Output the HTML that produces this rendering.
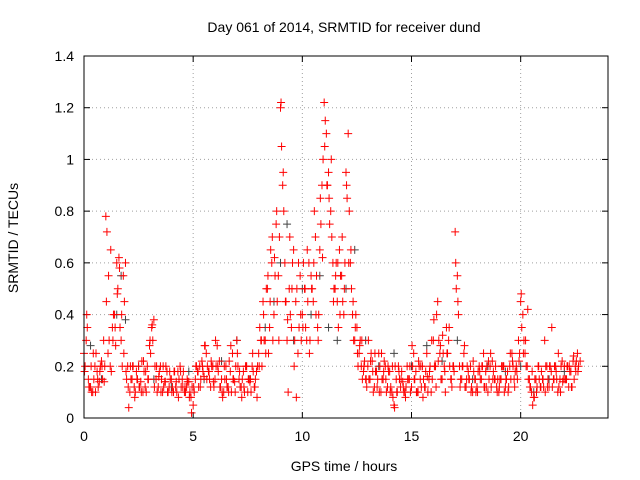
<!DOCTYPE html>
<html><head><meta charset="utf-8"><style>
body{margin:0;background:#fff;}
svg{display:block;font-family:"Liberation Sans",sans-serif;}
</style></head><body>
<svg id="chart" width="640" height="480" xmlns="http://www.w3.org/2000/svg">
<text x="344" y="32" font-size="14" text-anchor="middle">Day 061 of 2014, SRMTID for receiver dund</text>
<text transform="translate(18,238) rotate(-90)" font-size="14" text-anchor="middle">SRMTID / TECUs</text>
<text x="344" y="471" font-size="14" text-anchor="middle">GPS time / hours</text>
<g id="grid"></g><g id="ticks"></g><g id="marks"></g>
<rect x="84" y="56" width="524" height="362" fill="none" stroke="#000" stroke-width="1"/>
</svg>
<script>
const yTicks=[0,0.2,0.4,0.6,0.8,1,1.2,1.4];
const yTickLabels=["0","0.2","0.4","0.6","0.8","1","1.2","1.4"];
const xTicks=[0,5,10,15,20];
const xTickLabels=["0","5","10","15","20"];
const redStartA=0, redStartB=0.05, redStep=0.1;
const redStartC=0.025, redStartD=0.125, redStep2=0.2;
const redA=[0.25,0.3,0.15,0.12,0.1,0.2,0.18,0.14,0.22,0.3,
0.78,0.25,0.2,0.35,0.4,0.6,0.62,0.3,0.55,0.6,
0.2,0.1,0.15,0.12,0.18,0.2,0.14,0.1,0.12,0.2,
0.28,0.35,0.38,0.15,0.12,0.2,0.1,0.14,0.18,0.12,
0.15,0.1,0.12,0.18,0.2,0.15,0.1,0.12,0.14,0.08,
0.05,0.15,0.18,0.2,0.22,0.16,0.25,0.18,0.12,0.2,
0.15,0.28,0.22,0.15,0.1,0.2,0.12,0.18,0.25,0.14,
0.3,0.15,0.12,0.18,0.2,0.1,0.14,0.2,0.12,0.18,
0.25,0.3,0.45,0.3,0.5,0.35,0.6,0.4,0.75,0.55,
1.2,0.9,0.6,0.3,0.5,0.35,0.65,0.45,0.25,0.55,
0.4,0.5,0.3,0.6,0.55,0.45,0.7,0.35,0.65,0.9,
1.22,1.1,0.95,0.8,0.6,0.5,0.45,0.65,0.55,0.4,
0.95,1.1,0.6,0.4,0.3,0.35,0.25,0.2,0.18,0.15,
0.2,0.15,0.22,0.12,0.18,0.25,0.1,0.15,0.2,0.12,
0.18,0.1,0.05,0.15,0.2,0.12,0.14,0.1,0.2,0.15,
0.12,0.25,0.18,0.1,0.15,0.2,0.12,0.25,0.15,0.1,
0.3,0.2,0.45,0.25,0.15,0.2,0.35,0.3,0.15,0.2,
0.72,0.55,0.2,0.15,0.25,0.12,0.18,0.2,0.1,0.15,
0.12,0.2,0.15,0.25,0.18,0.1,0.2,0.22,0.15,0.12,
0.1,0.15,0.2,0.12,0.18,0.2,0.25,0.15,0.2,0.3,
0.45,0.4,0.25,0.2,0.15,0.1,0.08,0.15,0.2,0.12,
0.15,0.3,0.2,0.12,0.18,0.15,0.2,0.1,0.15,0.22,
0.2,0.15,0.12,0.18,0.22,0.2,0.25];
const redB=[0.2,0.35,0.12,0.1,0.15,0.25,0.12,0.2,0.15,0.2,
0.72,0.3,0.18,0.4,0.28,0.5,0.35,0.2,0.45,0.15,
0.04,0.15,0.2,0.1,0.15,0.12,0.22,0.18,0.1,0.15,
0.25,0.3,0.2,0.1,0.18,0.15,0.12,0.2,0.1,0.15,
0.12,0.18,0.1,0.15,0.12,0.18,0.1,0.14,0.1,0.12,
0.1,0.2,0.12,0.15,0.18,0.28,0.2,0.15,0.2,0.12,
0.2,0.18,0.12,0.08,0.15,0.12,0.22,0.1,0.15,0.2,
0.2,0.12,0.15,0.1,0.2,0.15,0.1,0.18,0.15,0.2,
0.35,0.2,0.3,0.5,0.25,0.65,0.3,0.55,0.45,0.7,
1.05,0.8,0.45,0.1,0.4,0.6,0.3,0.5,0.35,0.3,
0.6,0.35,0.45,0.3,0.5,0.8,0.55,0.4,0.75,1.0,
1.15,0.9,0.75,0.7,0.5,0.6,0.35,0.55,0.45,0.6,
0.85,0.8,0.5,0.3,0.4,0.2,0.3,0.15,0.22,0.12,
0.15,0.25,0.1,0.18,0.15,0.2,0.15,0.22,0.1,0.18,
0.12,0.08,0.2,0.1,0.15,0.18,0.1,0.12,0.15,0.1,
0.2,0.15,0.1,0.2,0.12,0.15,0.18,0.1,0.2,0.15,
0.2,0.4,0.3,0.15,0.25,0.1,0.25,0.2,0.12,0.18,
0.5,0.4,0.15,0.2,0.12,0.2,0.15,0.12,0.18,0.1,
0.18,0.15,0.2,0.12,0.2,0.15,0.12,0.18,0.2,0.15,
0.15,0.2,0.1,0.15,0.12,0.15,0.2,0.18,0.15,0.25,
0.35,0.3,0.2,0.15,0.12,0.05,0.15,0.12,0.15,0.18,
0.12,0.2,0.15,0.2,0.12,0.2,0.15,0.12,0.2,0.15,
0.15,0.2,0.18,0.12,0.15,0.22,0.2];
const redC=[0.18,0.12,0.25,0.15,0.2,0.45,0.65,0.35,0.58,0.25,
0.12,0.2,0.15,0.1,0.18,0.3,0.12,0.16,0.2,0.1,
0.1,0.14,0.18,0.12,0.08,0.12,0.18,0.2,0.15,0.22,
0.3,0.12,0.2,0.1,0.15,0.25,0.08,0.2,0.15,0.12,
0.2,0.4,0.55,0.7,0.8,1.22,0.45,0.7,0.2,0.6,
0.35,0.65,0.5,0.4,0.85,1.05,0.85,0.45,0.6,0.7,
0.9,0.65,0.35,0.28,0.2,0.3,0.18,0.12,0.25,0.15,
0.1,0.04,0.18,0.12,0.15,0.28,0.1,0.2,0.12,0.18,
0.38,0.22,0.32,0.25,0.15,0.6,0.12,0.28,0.15,0.22,
0.1,0.2,0.12,0.25,0.15,0.12,0.2,0.1,0.22,0.18,
0.48,0.3,0.12,0.08,0.2,0.15,0.12,0.35,0.18,0.1,
0.15,0.2,0.24,0.18];
const redD=[0.4,0.2,0.1,0.18,0.14,0.55,0.3,0.48,0.4,0.18,
0.2,0.08,0.12,0.22,0.15,0.36,0.2,0.1,0.14,0.18,
0.18,0.08,0.12,0.15,0.02,0.2,0.12,0.28,0.18,0.14,
0.2,0.1,0.15,0.28,0.1,0.18,0.12,0.15,0.25,0.08,
0.3,0.25,0.45,0.62,0.3,0.95,0.38,0.5,0.08,0.4,
0.5,0.25,0.6,0.3,0.62,0.9,1.0,0.55,0.4,0.5,
0.6,0.45,0.25,0.3,0.15,0.22,0.25,0.1,0.18,0.2,
0.2,0.1,0.15,0.08,0.2,0.15,0.22,0.08,0.16,0.3,
0.12,0.28,0.18,0.35,0.2,0.45,0.2,0.15,0.1,0.15,
0.18,0.12,0.22,0.15,0.1,0.2,0.15,0.25,0.12,0.22,
0.25,0.42,0.18,0.1,0.12,0.1,0.2,0.15,0.25,0.14,
0.2,0.12,0.18,0.22];
const blackTimes=[0.3,0.8,1.5,1.7,1.9,2.5,3.2,4.0,4.8,5.5,6.3,7.0,7.6,8.3,8.7,9.0,9.3,9.6,10.0,10.4,10.8,11.2,11.6,12.0,12.4,12.9,13.5,14.2,15.0,15.7,16.4,17.1,17.8,18.5,19.3,20.0,20.6,21.3,22.0];
const blackValues=[0.28,0.15,0.4,0.55,0.38,0.2,0.15,0.12,0.18,0.15,0.22,0.3,0.15,0.35,0.45,0.6,0.75,0.3,0.5,0.4,0.55,0.35,0.3,0.5,0.65,0.3,0.2,0.25,0.2,0.28,0.22,0.3,0.15,0.2,0.18,0.2,0.1,0.15,0.18];

const X0=84,X1=608,Y0=418,Y1=56,XMAX=24,YMAX=1.4;
const xs=v=>X0+v/XMAX*(X1-X0);
const ys=v=>Y0-v/YMAX*(Y0-Y1);
const NS="http://www.w3.org/2000/svg";
const mk=(t,a,p)=>{const e=document.createElementNS(NS,t);for(const k in a)e.setAttribute(k,a[k]);p.appendChild(e);return e;};
const grid=document.getElementById('grid'),ticks=document.getElementById('ticks'),marks=document.getElementById('marks');
yTicks.forEach((v,i)=>{const y=ys(v);
 if(i>0&&i<yTicks.length-1){const g=mk('line',{x1:X0,x2:X1,y1:y,y2:y,stroke:'#a0a0a0','stroke-dasharray':'1,3'},grid);
 
 }
 mk('line',{x1:X0,x2:X0+6,y1:y,y2:y,stroke:'#000'},ticks);mk('line',{x1:X1,x2:X1-6,y1:y,y2:y,stroke:'#000'},ticks);
 const t=mk('text',{x:X0-10,y:y+5,'font-size':14,'text-anchor':'end'},ticks);t.textContent=yTickLabels[i];
 
 });
xTicks.forEach((v,i)=>{const x=xs(v);
 if(i>0){const g=mk('line',{x1:x,x2:x,y1:Y0,y2:Y1,stroke:'#a0a0a0','stroke-dasharray':'1,3'},grid);
 
 }
 mk('line',{x1:x,x2:x,y1:Y0,y2:Y0-6,stroke:'#000'},ticks);mk('line',{x1:x,x2:x,y1:Y1,y2:Y1+6,stroke:'#000'},ticks);
 const t=mk('text',{x:x,y:Y0+23,'font-size':14,'text-anchor':'middle'},ticks);t.textContent=xTickLabels[i];
 
 });
function plus(t,v,c,name){const x=xs(t),y=ys(v);
 const p=mk('path',{d:`M${x-4},${y}H${x+4}M${x},${y-4}V${y+4}`,stroke:c,'stroke-width':1,fill:'none'},marks);
 
 }
blackValues.forEach((v,i)=>plus(blackTimes[i],v,'#444','black-point'));
redA.forEach((v,i)=>plus(redStartA+i*redStep,v,'#ff0000','red-point'));
redB.forEach((v,i)=>plus(redStartB+i*redStep,v,'#ff0000','red-point'));
redC.forEach((v,i)=>plus(redStartC+i*redStep2,v,'#ff0000','red-point'));
redD.forEach((v,i)=>plus(redStartD+i*redStep2,v,'#ff0000','red-point'));
</script>
</body></html>
